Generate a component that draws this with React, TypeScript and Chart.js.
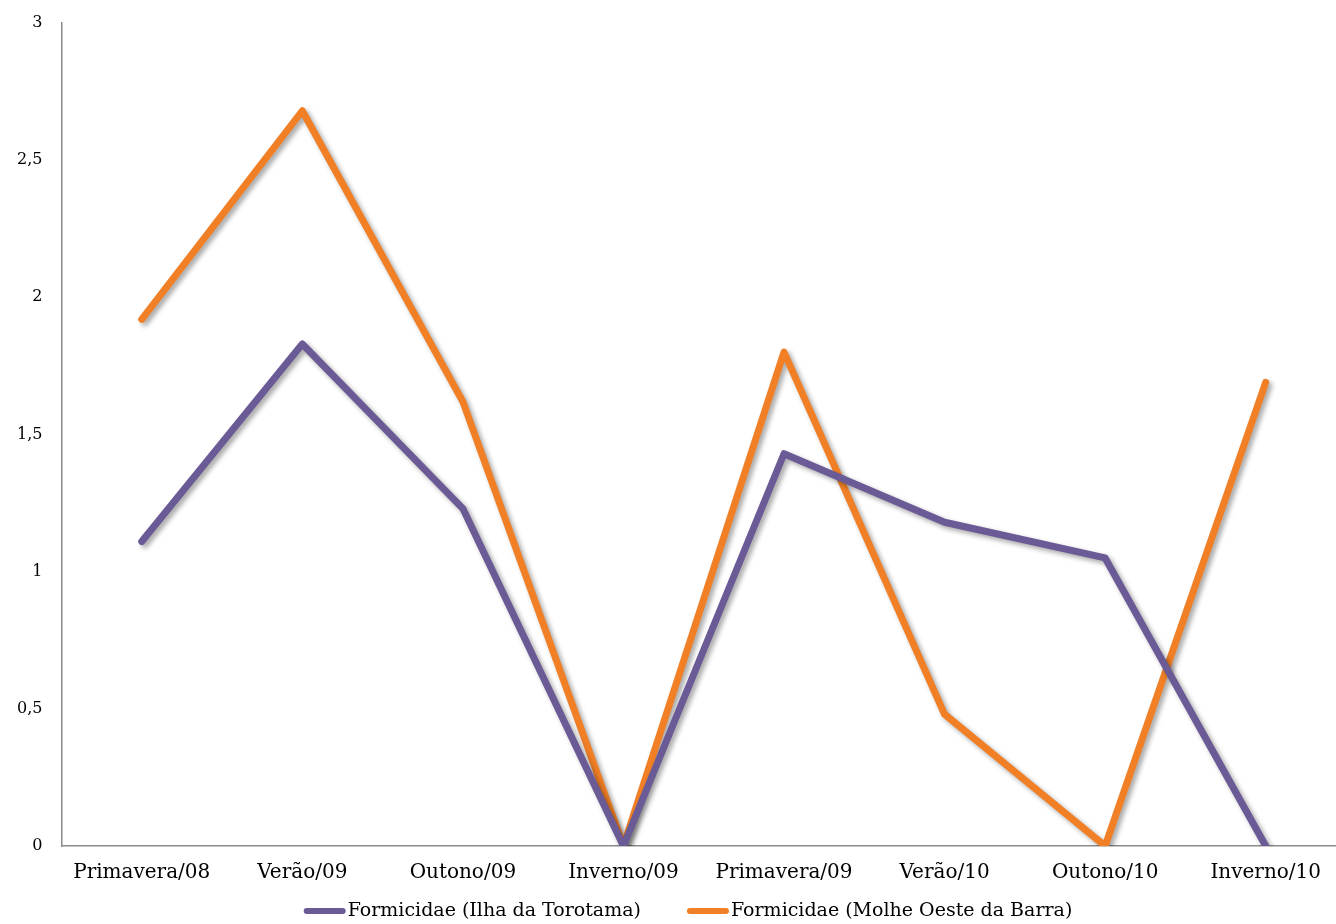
import React, { useEffect, useRef } from "react";
import { Chart, registerables } from "chart.js";

Chart.register(...registerables);

const categories = [
  "Primavera/08",
  "Verão/09",
  "Outono/09",
  "Inverno/09",
  "Primavera/09",
  "Verão/10",
  "Outono/10",
  "Inverno/10",
];

const ilhaTorotama = [1.11, 1.83, 1.23, 0, 1.43, 1.18, 1.05, 0];
const molheOeste = [1.92, 2.68, 1.62, 0, 1.8, 0.48, 0, 1.69];

const seriesNames = [
  "Formicidae (Ilha da Torotama)",
  "Formicidae (Molhe Oeste da Barra)",
];

const yTicks = [0, 0.5, 1, 1.5, 2, 2.5, 3];

const FONT = "'DejaVu Serif', 'Liberation Serif', serif";

const shadowPlugin = {
  id: "lineShadow",
  beforeDatasetsDraw(chart: any) {
    const ctx = chart.ctx;
    ctx.save();
    ctx.shadowColor = "rgba(0,0,0,0.35)";
    ctx.shadowBlur = 5;
    ctx.shadowOffsetX = 3;
    ctx.shadowOffsetY = 3;
  },
  afterDatasetsDraw(chart: any) {
    chart.ctx.restore();
  },
};

const legendPlugin = {
  id: "customLegend",
  afterDraw(chart: any) {
    const ctx = chart.ctx;
    const ds = chart.data.datasets;
    ctx.save();
    ctx.font = `19px ${FONT}`;
    ctx.textBaseline = "middle";
    const lineW = 42;
    const textGap = 2;
    const itemGap = 46;
    const widths = ds.map((d: any) => ctx.measureText(d.label).width);
    let total = 0;
    widths.forEach((w: number, i: number) => {
      total += lineW + textGap + w + (i < widths.length - 1 ? itemGap : 0);
    });
    const centerX = 688;
    const y = 911;
    let x = centerX - total / 2;
    ds.forEach((d: any, i: number) => {
      ctx.strokeStyle = d.borderColor;
      ctx.lineWidth = 6;
      ctx.lineCap = "round";
      ctx.beginPath();
      ctx.moveTo(x + 3, y);
      ctx.lineTo(x + lineW - 3, y);
      ctx.stroke();
      ctx.fillStyle = "#000";
      ctx.fillText(d.label, x + lineW + textGap, y);
      x += lineW + textGap + widths[i] + itemGap;
    });
    ctx.restore();
  },
};

export default function App() {
  const ref = useRef<HTMLCanvasElement | null>(null);

  useEffect(() => {
    document.body.style.margin = "0";
    const canvas = ref.current;
    if (!canvas) return;
    const chart = new Chart(canvas, {
      type: "line",
      data: {
        labels: categories,
        datasets: [
          {
            label: seriesNames[0],
            data: ilhaTorotama,
            borderColor: "#6A5A95",
            backgroundColor: "#6A5A95",
            borderWidth: 7,
            pointRadius: 0,
            tension: 0,
            borderCapStyle: "round",
            borderJoinStyle: "round",
          },
          {
            label: seriesNames[1],
            data: molheOeste,
            borderColor: "#F07F26",
            backgroundColor: "#F07F26",
            borderWidth: 7,
            pointRadius: 0,
            tension: 0,
            borderCapStyle: "round",
            borderJoinStyle: "round",
          },
        ],
      },
      options: {
        animation: false,
        responsive: false,
        maintainAspectRatio: false,
        layout: { padding: { top: 23, left: -2, right: 0, bottom: 24 } },
        plugins: {
          legend: { display: false },
          tooltip: { enabled: false },
        },
        scales: {
          x: {
            offset: true,
            grid: { display: false, drawTicks: false },
            border: { display: true, color: "#8c8c8c", width: 1.5 },
            ticks: {
              color: "#000",
              padding: 15,
              maxRotation: 0,
              autoSkip: false,
              font: { family: FONT, size: 20 },
            },
          },
          y: {
            min: 0,
            max: 3,
            afterBuildTicks(axis: any) {
              axis.ticks = yTicks.map((v) => ({ value: v }));
            },
            afterFit(axis: any) {
              axis.paddingTop = 0;
            },
            grid: { display: false, drawTicks: false },
            border: { display: true, color: "#8c8c8c", width: 1.5 },
            ticks: {
              color: "#000",
              padding: 19,
              font: { family: FONT, size: 16 },
              callback: (v: any) => String(v).replace(".", ","),
            },
          },
        },
      },
      plugins: [shadowPlugin, legendPlugin],
    });
    return () => chart.destroy();
  }, []);

  return (
    <div
      style={{
        position: "absolute",
        left: 0,
        top: 0,
        width: 1336,
        height: 924,
        overflow: "hidden",
        background: "#fff",
      }}
    >
      <canvas ref={ref} width={1346} height={924} style={{ display: "block" }} />
    </div>
  );
}
